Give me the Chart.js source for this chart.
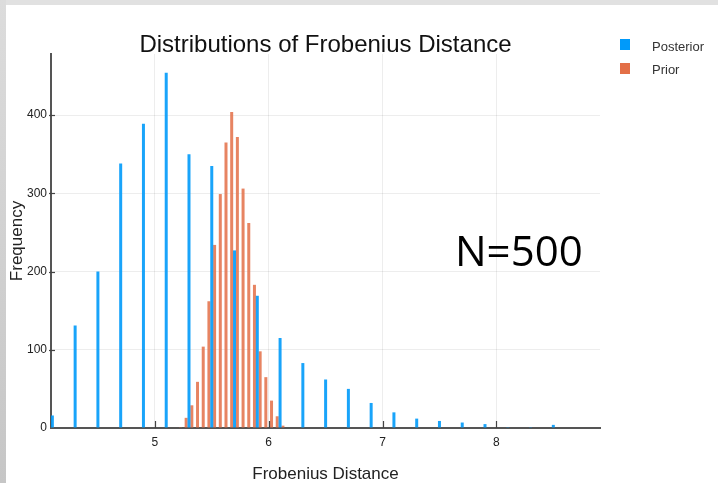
<!DOCTYPE html>
<html>
<head>
<meta charset="utf-8">
<script src="https://cdn.jsdelivr.net/npm/chart.js@4/dist/chart.umd.min.js"></script>
<style>
  html, body { margin: 0; padding: 0; background: #ffffff; }
  #wrap { position: relative; width: 718px; height: 483px; overflow: hidden; }
  canvas { position: absolute; left: 0; top: 0; }
  .note { position: absolute; left: 455px; top: 229px; font-family: "Open Sans", sans-serif; font-size: 42px; line-height: 1; color: #000; white-space: nowrap; }
  .leg { position: absolute; font-family: "Liberation Sans", Arial, sans-serif; font-size: 13px; line-height: 1; color: #333; white-space: nowrap; }
  .sw { position: absolute; width: 10px; height: 11px; }
</style>
</head>
<body>
<div id="wrap">
  <canvas id="c" width="718" height="483"></canvas>
  <div class="sw" style="left:620px; top:39px; background:#009AFA;"></div>
  <div class="leg" style="left:652px; top:40px;">Posterior</div>
  <div class="sw" style="left:620px; top:63px; background:#E36F47;"></div>
  <div class="leg" style="left:652px; top:63px;">Prior</div>
  <div class="note">N=500</div>
</div>
<script>
// ---- data ----
const posteriorBins = [4.1, 4.3, 4.5, 4.7, 4.9, 5.1, 5.3, 5.5, 5.7, 5.9, 6.1, 6.3, 6.5, 6.7, 6.9, 7.1, 7.3, 7.5, 7.7, 7.9, 8.1, 8.3, 8.5];
const posteriorCounts = [16, 131, 200, 338, 389, 454, 350, 335, 227, 169, 115, 83, 62, 50, 32, 20, 12, 9, 7, 5, 1, 1, 4];
const priorBins = [5.225, 5.275, 5.325, 5.375, 5.425, 5.475, 5.525, 5.575, 5.625, 5.675, 5.725, 5.775, 5.825, 5.875, 5.925, 5.975, 6.025, 6.075, 6.125];
const priorCounts = [1, 13, 29, 59, 104, 162, 234, 299, 365, 404, 372, 306, 262, 183, 98, 65, 35, 15, 3];
const xTickValues = [5, 6, 7, 8];
const yTickValues = [0, 100, 200, 300, 400];
const seriesNames = ['Posterior', 'Prior'];

const toPoints = (xs, ys) => xs.map((x, i) => ({ x: x, y: ys[i] }));

const backgroundPlugin = {
  id: 'bg',
  beforeDraw(chart) {
    const c = chart.ctx;
    c.save();
    c.fillStyle = '#ffffff';
    c.fillRect(0, 0, chart.width, chart.height);
    c.fillStyle = '#e1e1e1';
    c.fillRect(0, 0, chart.width, 5);
    const g = c.createLinearGradient(0, 0, 0, chart.height);
    g.addColorStop(0, '#dcdcdc');
    g.addColorStop(1, '#c6c6c6');
    c.fillStyle = g;
    c.fillRect(0, 0, 6, chart.height);
    c.restore();
  }
};

const innerTicksPlugin = {
  id: 'innerTicks',
  afterDatasetsDraw(chart) {
    const c = chart.ctx;
    const xs = chart.scales.x, ys = chart.scales.y;
    const a = chart.chartArea;
    c.save();
    c.strokeStyle = '#444';
    c.lineWidth = 1.2;
    xs.ticks.forEach(t => {
      const px = Math.round(xs.getPixelForValue(t.value)) + 0.5;
      c.beginPath(); c.moveTo(px, a.bottom); c.lineTo(px, a.bottom - 7); c.stroke();
    });
    ys.ticks.forEach(t => {
      if (t.value === 0) return;
      const py = Math.round(ys.getPixelForValue(t.value)) + 0.5;
      c.beginPath(); c.moveTo(a.left - 2, py); c.lineTo(a.left + 4, py); c.stroke();
    });
    c.restore();
  }
};

new Chart(document.getElementById('c'), {
  type: 'bar',
  data: {
    datasets: [
      {
        label: seriesNames[0],
        data: toPoints(posteriorBins, posteriorCounts),
        backgroundColor: 'rgba(0,154,250,0.9)',
        borderWidth: 0,
        barThickness: 3,
        inflateAmount: 0,
        grouped: false,
        order: 1
      },
      {
        label: seriesNames[1],
        data: toPoints(priorBins, priorCounts),
        backgroundColor: 'rgba(227,111,71,0.85)',
        borderWidth: 0,
        barThickness: 3,
        inflateAmount: 0,
        grouped: false,
        order: 2
      }
    ]
  },
  options: {
    responsive: false,
    animation: false,
    devicePixelRatio: 1,
    layout: { padding: { top: 35, left: 0, right: 118, bottom: 0 } },
    plugins: {
      legend: { display: false },
      tooltip: { enabled: false },
      title: {
        display: true,
        text: 'Distributions of Frobenius Distance',
        fullSize: false,
        color: '#111',
        font: { family: '"Liberation Sans", Arial, sans-serif', size: 24, weight: 'normal', lineHeight: 0.75 },
        padding: { top: 1, bottom: 0 }
      }
    },
    scales: {
      x: {
        type: 'linear',
        offset: false,
        min: 4.088,
        max: 8.91,
        afterBuildTicks: (s) => { s.ticks = xTickValues.map(v => ({ value: v })); },
        afterFit: (s) => { s.height = 55; },
        grid: { color: 'rgba(0,0,0,0.07)', drawTicks: false, offset: false },
        border: { display: true, color: '#555', width: 2 },
        ticks: {
          padding: 7,
          color: '#222',
          font: { family: '"Liberation Sans", Arial, sans-serif', size: 12 },
          maxRotation: 0,
          callback: (v) => String(v)
        },
        title: {
          display: true,
          text: 'Frobenius Distance',
          color: '#222',
          font: { family: '"Liberation Sans", Arial, sans-serif', size: 17, lineHeight: 1 },
          padding: { top: 0, bottom: 0 }
        }
      },
      y: {
        type: 'linear',
        min: 0,
        max: 478,
        afterBuildTicks: (s) => { s.ticks = yTickValues.map(v => ({ value: v })); },
        afterFit: (s) => { s.width = 51; },
        grid: { color: 'rgba(0,0,0,0.07)', drawTicks: false },
        border: { display: true, color: '#555', width: 2 },
        ticks: {
          padding: 4,
          color: '#222',
          font: { family: '"Liberation Sans", Arial, sans-serif', size: 12 },
          callback: (v) => String(v)
        },
        title: {
          display: true,
          text: 'Frequency',
          color: '#222',
          font: { family: '"Liberation Sans", Arial, sans-serif', size: 17, lineHeight: 1 },
          padding: { top: 8.5, bottom: 0 }
        }
      }
    }
  },
  plugins: [backgroundPlugin, innerTicksPlugin]
});
</script>
</body>
</html>
